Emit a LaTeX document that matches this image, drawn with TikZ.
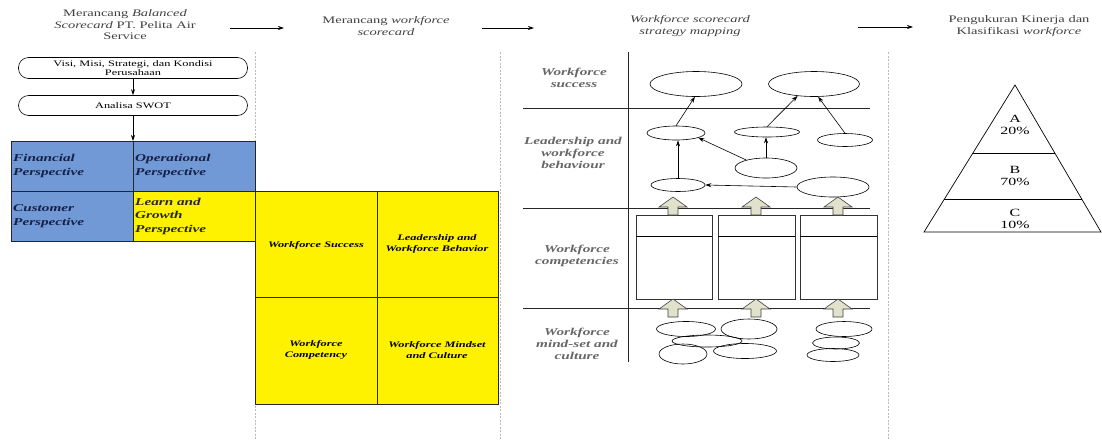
\documentclass[tikz,border=0pt]{standalone}
\usepackage{fontspec}
\setmainfont{Liberation Serif}[FakeStretch=1.45]
\usetikzlibrary{shapes.geometric,arrows.meta}
\definecolor{bsblue}{RGB}{112,153,214}
\definecolor{navytext}{RGB}{22,32,72}
\definecolor{blockfill}{RGB}{224,226,204}
\tikzset{
 ttl/.style={align=center,font=\fontsize{10}{11.5}\selectfont,text=black!75,inner sep=0},
 arr/.style={-{Stealth[length=6pt,width=4pt]},line width=0.7pt},
 sep/.style={gray!55,dash pattern=on 2pt off 1.5pt,line width=0.6pt},
 stadium/.style={draw,rounded corners=10pt,minimum width=229pt,minimum height=21pt,inner sep=0,align=center,font=\fontsize{8.5}{9}\selectfont,line width=0.6pt},
 bslbl/.style={anchor=west,align=left,inner sep=0,font=\fontsize{10.5}{13.5}\selectfont\bfseries\itshape,text=navytext},
 wslbl/.style={align=center,inner sep=0,font=\fontsize{8.5}{11.5}\selectfont\bfseries\itshape},
 smlbl/.style={align=center,inner sep=0,font=\fontsize{10.5}{12}\selectfont\bfseries\itshape,text=black!60},
 ell/.style={draw,ellipse,inner sep=0,line width=0.6pt},
 pylbl/.style={align=center,inner sep=0,font=\fontsize{11}{12}\selectfont},
 blockarrow/.style={fill=blockfill,draw=black!75,line width=0.6pt},
 gridline/.style={line width=0.7pt,draw=black!85},
}
\newcommand{\upblock}[3]{\draw[blockarrow] (#1,#2) -- (#1+14,#2+10) -- (#1+5,#2+10) -- (#1+5,#3) -- (#1-5,#3) -- (#1-5,#2+10) -- (#1-14,#2+10) -- cycle;}
\begin{document}
\begin{tikzpicture}[x=1pt,y=-1pt]
\useasboundingbox (0,0) rectangle (1102,440);
% separators
\draw[sep] (255,52) -- (255,440);
\draw[sep] (500,52) -- (500,440);
\draw[sep] (888,52) -- (888,440);
% titles
\node[ttl] (t1) at (125,25) {Merancang \textit{Balanced}\\\textit{Scorecard} PT. Pelita Air\\Service};
\node[ttl] (t2) at (386,26) {Merancang \textit{workforce}\\\textit{scorecard}};
\node[ttl] (t3) at (690,26) {\textit{Workforce scorecard}\\\textit{strategy mapping}};
\node[ttl] (t4) at (1019,26) {Pengukuran Kinerja dan\\Klasifikasi \textit{workforce}};
\coordinate (a1s) at (230,28); \coordinate (a1e) at (284,28);
\coordinate (a2s) at (482,28); \coordinate (a2e) at (534,28);
\coordinate (a3s) at (858,27); \coordinate (a3e) at (913,27);
\draw[arr] (a1s) -- (a1e);
\draw[arr] (a2s) -- (a2e);
\draw[arr] (a3s) -- (a3e);
% column 1
\node[stadium] (visi) at (133,68) {Visi, Misi, Strategi, dan Kondisi\\Perusahaan};
\node[stadium,minimum height=20pt] (swot) at (133,105.5) {Analisa SWOT};
\coordinate (gtop) at (133,141);
\draw[arr] (visi.south) -- (swot.north);
\draw[arr] (swot.south) -- (gtop);
\fill[bsblue] (11,141) rectangle (255,241);
\fill[yellow] (133,191) rectangle (255,241);
\draw[gridline] (11,141) rectangle (255,241);
\draw[gridline] (133,141) -- (133,241);
\draw[gridline] (11,191) -- (255,191);
\node[bslbl] (fin) at (13,166) {Financial\\Perspective};
\node[bslbl] (ops) at (135,166) {Operational\\Perspective};
\node[bslbl] (cus) at (13,216) {Customer\\Perspective};
\node[bslbl,text=black!85] (lgp) at (135,216) {Learn and\\Growth\\Perspective};
% column 2
\fill[yellow] (255,191) rectangle (498,404);
\draw[gridline] (255,191) rectangle (498,404);
\draw[gridline] (377,191) -- (377,404);
\draw[gridline] (255,297) -- (498,297);
\node[wslbl] (ws) at (316,245) {Workforce Success};
\node[wslbl] (lwb) at (437,244) {Leadership and\\Workforce Behavior};
\node[wslbl] (wc) at (316,350) {Workforce\\Competency};
\node[wslbl] (wmc) at (437,350) {Workforce Mindset\\and Culture};
% column 3
\draw[gridline] (628,52) -- (628,362);
\draw[gridline] (523,108) -- (870,108);
\draw[gridline] (523,208) -- (870,208);
\draw[gridline] (523,308) -- (870,308);
\node[smlbl] (l1) at (574,78) {Workforce\\success};
\node[smlbl] (l2) at (573,153) {Leadership and\\workforce\\behaviour};
\node[smlbl] (l3) at (577,256) {Workforce\\competencies};
\node[smlbl] (l4) at (577,344) {Workforce\\mind-set and\\culture};
\node[ell,minimum width=92pt,minimum height=25pt] (e1) at (696,84) {};
\node[ell,minimum width=91pt,minimum height=25pt] (e2) at (814,84) {};
\node[ell,minimum width=58pt,minimum height=14pt] (e3) at (676,133) {};
\node[ell,minimum width=65pt,minimum height=10pt] (e4) at (767,132) {};
\node[ell,minimum width=55pt,minimum height=13pt] (e5) at (845,140) {};
\node[ell,minimum width=62pt,minimum height=20pt] (e6) at (766,168) {};
\node[ell,minimum width=54pt,minimum height=13pt] (e7) at (678,185) {};
\node[ell,minimum width=72pt,minimum height=20pt] (e8) at (833,187) {};
\draw[arr,line width=0.6pt] (e3.north) -- (e1.265);
\draw[arr,line width=0.6pt] (e4.north) -- (e2.216);
\draw[arr,line width=0.6pt] (e5.north) -- (e2.-72);
\draw[arr,line width=0.6pt] (e6.north) -- (e6.north |- e4.south);
\draw[arr,line width=0.6pt] (e6.158) -- (e3.-12);
\draw[arr,line width=0.6pt] (e7.north) -- (e7.north |- e3.south);
\draw[arr,line width=0.6pt] (e8.west) -- (e7.east);
% competency boxes
\draw[line width=0.7pt,draw=black!80] (636,215) rectangle (712,299);
\draw[line width=0.7pt,draw=black!80] (718,215) rectangle (795,299);
\draw[line width=0.7pt,draw=black!80] (800,215) rectangle (877,299);
\draw[line width=0.6pt] (636,236) -- (712,236);
\draw[line width=0.6pt] (718,236) -- (795,236);
\draw[line width=0.6pt] (800,236) -- (877,236);
\upblock{673}{197}{215}
\upblock{756}{197}{215}
\upblock{838}{197}{215}
\upblock{673}{299}{317}
\upblock{756}{299}{317}
\upblock{838}{299}{317}
% mindset ellipses
\node[ell,minimum width=59pt,minimum height=15pt] (m1) at (686,329) {};
\node[ell,minimum width=56pt,minimum height=20pt] (m2) at (749,329) {};
\node[ell,minimum width=70pt,minimum height=12pt] (m3) at (707,341) {};
\node[ell,minimum width=48pt,minimum height=20pt] (m4) at (683,354) {};
\node[ell,minimum width=63pt,minimum height=15pt] (m5) at (745,351) {};
\node[ell,minimum width=56pt,minimum height=15pt] (m6) at (844,329) {};
\node[ell,minimum width=47pt,minimum height=12pt] (m7) at (836,343) {};
\node[ell,minimum width=52pt,minimum height=13pt] (m8) at (833,355) {};
% column 4 pyramid
\draw[line width=0.7pt] (1015,85) -- (1101,232) -- (924,232) -- cycle;
\draw[line width=0.7pt] (972.9,153) -- (1054.8,153);
\draw[line width=0.7pt] (944.4,199) -- (1081.7,199);
\node[pylbl] (pa) at (1015,125) {A\\20\%};
\node[pylbl] (pb) at (1015,176) {B\\70\%};
\node[pylbl] (pc) at (1015,219) {C\\10\%};
\end{tikzpicture}
\end{document}
